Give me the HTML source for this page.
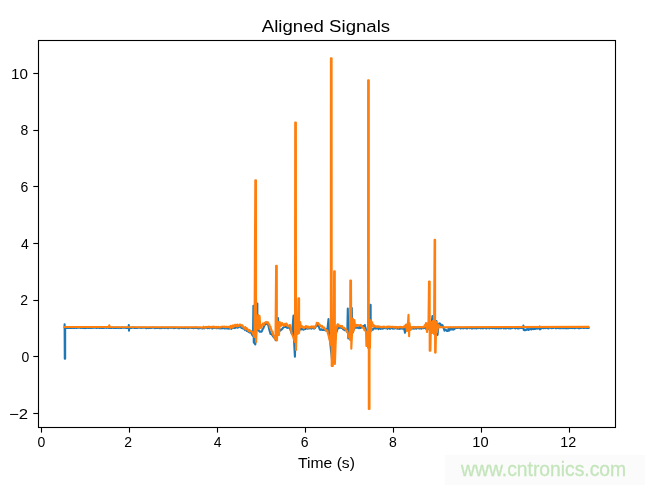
<!DOCTYPE html>
<html><head><meta charset="utf-8"><style>
html,body{margin:0;padding:0;background:#fff;}
body{width:645px;height:485px;position:relative;overflow:hidden;font-family:"Liberation Sans",sans-serif;}
svg{position:absolute;left:0;top:0;will-change:transform;}
.wm{position:absolute;left:445px;top:455px;width:200px;height:30px;background:#fbfbfb;}
</style></head><body>
<div class="wm"></div>
<svg width="645" height="485" viewBox="0 0 645 485">
<g fill="#000" font-family="Liberation Sans, sans-serif">
<text x="326.00" y="31.87" font-size="16.9" text-anchor="middle" textLength="128.38" lengthAdjust="spacingAndGlyphs">Aligned Signals</text><text x="326.49" y="467.57" font-size="14.4" text-anchor="middle" textLength="56.87" lengthAdjust="spacingAndGlyphs">Time (s)</text><text x="41.44" y="446.60" font-size="14" text-anchor="middle">0</text><text x="128.19" y="446.70" font-size="14" text-anchor="middle">2</text><text x="217.60" y="446.65" font-size="14" text-anchor="middle">4</text><text x="304.54" y="446.67" font-size="14" text-anchor="middle">6</text><text x="392.91" y="446.64" font-size="14" text-anchor="middle">8</text><text x="480.50" y="446.60" font-size="14" text-anchor="middle" textLength="16.34" lengthAdjust="spacingAndGlyphs">10</text><text x="568.24" y="446.50" font-size="14" text-anchor="middle" textLength="15.95" lengthAdjust="spacingAndGlyphs">12</text><text x="18.48" y="418.60" font-size="14" text-anchor="middle" textLength="19.05" lengthAdjust="spacingAndGlyphs">&#8722;2</text><text x="25.39" y="361.66" font-size="14" text-anchor="middle">0</text><text x="24.13" y="304.57" font-size="14" text-anchor="middle">2</text><text x="24.94" y="248.60" font-size="14" text-anchor="middle">4</text><text x="24.32" y="191.63" font-size="14" text-anchor="middle">6</text><text x="24.46" y="134.56" font-size="14" text-anchor="middle">8</text><text x="19.42" y="78.60" font-size="14" text-anchor="middle" textLength="16.90" lengthAdjust="spacingAndGlyphs">10</text>
</g>
<rect x="38.5" y="40.5" width="577" height="387" stroke="#000" stroke-width="1.11" fill="none"/>
<g stroke="#000" stroke-width="1.11"><line x1="41.5" y1="427.5" x2="41.5" y2="432.6"/><line x1="129.5" y1="427.5" x2="129.5" y2="432.6"/><line x1="217.5" y1="427.5" x2="217.5" y2="432.6"/><line x1="305.5" y1="427.5" x2="305.5" y2="432.6"/><line x1="393.5" y1="427.5" x2="393.5" y2="432.6"/><line x1="481.5" y1="427.5" x2="481.5" y2="432.6"/><line x1="569.5" y1="427.5" x2="569.5" y2="432.6"/><line x1="33.3" y1="413.5" x2="38.5" y2="413.5"/><line x1="33.3" y1="356.5" x2="38.5" y2="356.5"/><line x1="33.3" y1="300.5" x2="38.5" y2="300.5"/><line x1="33.3" y1="243.5" x2="38.5" y2="243.5"/><line x1="33.3" y1="186.5" x2="38.5" y2="186.5"/><line x1="33.3" y1="130.5" x2="38.5" y2="130.5"/><line x1="33.3" y1="73.5" x2="38.5" y2="73.5"/></g>
<polyline fill="none" stroke="#1f77b4" stroke-width="2.08" stroke-linejoin="round" stroke-linecap="square" points="64.55,327.80 64.60,324.20 64.80,358.80 65.15,358.80 65.15,327.80 65.65,328.03 66.16,327.83 66.66,327.51 67.16,327.97 67.66,327.76 68.17,327.85 68.67,327.92 69.17,327.88 69.67,327.79 70.18,328.05 70.68,327.73 71.18,327.74 71.69,328.01 72.19,327.62 72.69,327.68 73.19,328.00 73.70,327.54 74.20,328.00 74.70,327.92 75.21,327.76 75.71,327.67 76.21,327.97 76.71,328.05 77.22,327.59 77.72,327.79 78.22,327.83 78.72,327.80 79.23,327.70 79.73,327.59 80.23,327.85 80.74,327.99 81.24,327.54 81.74,327.64 82.24,327.99 82.75,327.98 83.25,327.90 83.75,327.52 84.26,327.93 84.76,328.09 85.26,328.10 85.76,327.92 86.27,327.53 86.77,328.01 87.27,327.63 87.77,327.89 88.28,328.07 88.78,327.93 89.28,327.58 89.79,327.68 90.29,328.05 90.79,327.59 91.29,327.87 91.80,327.75 92.30,327.60 92.80,327.87 93.31,327.53 93.81,327.56 94.31,327.73 94.81,327.54 95.32,327.53 95.82,327.85 96.32,327.95 96.82,328.03 97.33,327.58 97.83,327.76 98.33,327.69 98.84,327.86 99.34,327.79 99.84,328.06 100.34,327.72 100.85,327.53 101.35,327.92 101.85,327.59 102.36,327.88 102.86,327.80 103.36,328.05 103.86,327.83 104.37,327.87 104.87,327.66 105.37,327.83 105.88,327.65 106.38,327.95 106.88,327.81 107.38,327.58 107.89,327.64 108.39,327.72 108.89,327.94 109.39,327.61 109.90,327.93 110.40,327.89 110.90,327.55 111.41,327.90 111.91,327.55 112.41,327.57 112.91,327.86 113.42,327.64 113.92,328.03 114.42,327.79 114.92,327.69 115.43,327.98 115.93,327.52 116.43,327.94 116.94,327.53 117.44,327.59 117.94,328.07 118.44,327.91 118.95,327.63 119.45,327.57 119.95,328.08 120.46,327.90 120.96,327.99 121.46,327.58 121.96,327.87 122.47,327.71 122.97,327.64 123.47,327.70 123.97,327.87 124.48,327.71 124.98,327.73 125.48,327.58 125.99,328.00 126.49,327.89 126.99,327.98 127.49,327.76 128.00,328.01 128.50,327.80 128.80,325.00 129.00,330.70 129.30,327.80 129.80,327.81 130.30,327.86 130.80,327.85 131.31,327.95 131.81,327.74 132.31,327.57 132.81,327.53 133.31,327.63 133.81,327.54 134.31,328.05 134.82,327.80 135.32,327.97 135.82,327.52 136.32,327.80 136.82,328.06 137.32,327.89 137.82,327.78 138.33,327.80 138.83,327.59 139.33,327.62 139.83,327.63 140.33,327.76 140.83,327.76 141.33,328.06 141.84,327.63 142.34,327.69 142.84,327.70 143.34,327.64 143.84,327.71 144.34,327.68 144.84,327.83 145.35,327.56 145.85,328.10 146.35,327.77 146.85,328.11 147.35,327.96 147.85,327.96 148.35,327.84 148.86,328.12 149.36,327.63 149.86,327.96 150.36,327.73 150.86,327.97 151.36,328.00 151.86,327.66 152.37,327.69 152.87,327.58 153.37,327.71 153.87,327.62 154.37,327.81 154.87,328.16 155.37,327.79 155.88,327.76 156.38,327.86 156.88,327.75 157.38,328.02 157.88,328.01 158.38,327.68 158.88,327.73 159.39,327.99 159.89,328.15 160.39,327.98 160.89,327.85 161.39,328.18 161.89,327.60 162.39,327.63 162.90,328.06 163.40,327.84 163.90,327.62 164.40,327.93 164.90,328.19 165.40,327.91 165.90,327.81 166.40,327.66 166.91,327.65 167.41,328.15 167.91,327.90 168.41,328.17 168.91,327.64 169.41,327.76 169.91,327.65 170.42,327.85 170.92,327.65 171.42,327.77 171.92,327.87 172.42,327.81 172.92,327.65 173.42,327.65 173.93,328.21 174.43,327.74 174.93,327.93 175.43,327.87 175.93,327.95 176.43,327.68 176.93,327.82 177.44,327.70 177.94,327.96 178.44,328.19 178.94,328.00 179.44,328.16 179.94,327.77 180.44,327.66 180.95,327.97 181.45,327.94 181.95,327.99 182.45,327.88 182.95,328.03 183.45,328.09 183.95,328.20 184.46,327.84 184.96,327.93 185.46,328.15 185.96,327.79 186.46,327.73 186.96,327.85 187.46,327.72 187.97,328.13 188.47,328.16 188.97,327.86 189.47,327.75 189.97,327.72 190.47,327.82 190.97,327.73 191.48,327.93 191.98,328.02 192.48,327.83 192.98,327.72 193.48,328.10 193.98,327.71 194.48,327.80 194.99,327.86 195.49,327.86 195.99,327.59 196.49,327.91 196.99,327.81 197.49,328.25 197.99,328.05 198.50,328.39 199.00,328.15 199.50,328.26 200.00,328.00 200.50,328.07 201.00,327.94 201.50,328.32 202.00,328.16 202.50,328.45 203.00,328.23 203.50,328.20 204.00,327.77 204.50,328.31 205.00,327.88 205.50,327.63 206.00,327.57 206.50,327.67 207.00,327.76 207.50,328.18 208.00,327.79 208.50,327.56 209.00,328.26 209.50,328.06 210.00,327.53 210.50,327.55 211.00,327.63 211.50,327.86 212.00,328.36 212.50,328.45 213.00,328.11 213.50,327.73 214.00,327.93 214.50,327.86 215.00,327.83 215.50,327.51 216.00,328.08 216.50,328.33 217.00,328.23 217.50,327.60 218.00,328.03 218.50,327.67 219.00,328.21 219.50,327.95 220.00,328.44 220.50,328.29 221.00,327.62 221.50,327.82 222.00,328.41 222.50,327.96 223.00,327.93 223.50,327.94 224.00,328.27 224.50,328.44 225.00,328.00 225.50,328.06 226.00,328.52 226.50,328.17 227.00,327.70 227.50,328.44 228.00,328.07 228.50,327.73 229.00,328.68 229.50,327.76 230.00,328.37 230.50,328.25 231.00,328.30 231.50,328.83 232.00,327.97 232.50,327.60 233.00,327.62 233.50,327.42 234.00,327.92 234.50,327.51 235.00,328.06 235.50,327.17 236.00,327.50 236.53,327.09 237.06,326.75 237.59,327.76 238.11,327.36 238.64,327.20 239.17,326.66 239.70,326.30 240.25,326.51 240.80,326.46 241.35,327.93 241.90,327.75 242.45,327.39 243.00,328.50 243.55,328.22 244.10,328.36 244.65,329.60 245.20,330.14 245.75,329.27 246.30,330.00 246.84,330.81 247.39,330.39 247.93,331.29 248.48,331.91 249.02,331.86 249.57,332.48 250.11,332.14 250.66,331.88 251.20,333.00 251.80,334.02 252.40,335.14 253.00,336.00 253.40,305.80 253.75,305.80 253.75,342.60 254.27,342.66 254.78,343.56 255.30,344.30 256.00,335.00 257.00,303.50 257.35,303.50 257.35,330.00 257.96,330.16 258.58,330.14 259.19,331.05 259.80,331.80 260.37,331.61 260.93,331.76 261.50,331.80 262.07,330.83 262.63,329.04 263.20,328.67 263.77,327.10 264.33,325.98 264.90,324.00 265.48,324.21 266.06,324.07 266.64,323.76 267.22,324.08 267.80,323.50 268.34,325.38 268.88,327.85 269.42,330.09 269.96,331.94 270.50,334.00 271.00,334.08 271.50,334.18 272.00,334.63 272.50,335.48 273.00,336.27 273.50,336.99 274.00,337.00 274.57,338.17 275.15,338.34 275.73,340.16 276.30,340.30 277.00,335.00 278.00,318.00 278.60,332.00 279.14,331.09 279.68,331.25 280.22,329.67 280.76,330.21 281.30,329.52 281.84,329.43 282.38,328.79 282.92,327.90 283.46,327.59 284.00,326.50 284.54,326.98 285.08,326.88 285.62,326.33 286.16,326.93 286.70,327.63 287.24,326.68 287.78,327.96 288.32,327.37 288.86,327.23 289.40,327.50 289.92,328.00 290.44,329.92 290.96,330.89 291.48,332.94 292.00,334.00 293.50,315.50 294.00,340.00 294.90,356.70 295.50,340.00 296.50,329.00 298.00,330.00 298.53,330.50 299.06,330.37 299.59,329.75 300.11,329.25 300.64,328.66 301.17,329.44 301.70,329.00 302.21,329.09 302.73,329.34 303.24,328.80 303.76,329.62 304.27,328.54 304.79,328.69 305.30,329.00 305.87,328.29 306.43,328.53 307.00,328.00 307.50,328.64 308.00,327.47 308.50,328.21 309.00,328.43 309.50,327.56 310.00,327.30 310.50,328.11 311.00,328.53 311.50,328.61 312.00,328.36 312.50,327.87 313.00,327.88 313.50,328.05 314.00,328.65 314.50,327.68 315.00,328.00 315.60,326.77 316.20,326.42 316.80,326.12 317.40,324.50 317.92,325.04 318.44,325.83 318.96,327.00 319.48,328.76 320.00,329.70 320.53,329.87 321.06,329.19 321.59,329.20 322.11,329.85 322.64,329.93 323.17,330.00 323.70,330.07 324.23,329.00 324.76,329.68 325.29,330.24 325.81,330.43 326.34,329.41 326.87,330.26 327.40,329.70 328.50,319.00 329.00,335.00 330.00,340.00 330.50,345.23 331.00,350.68 331.50,354.57 332.00,360.00 332.50,355.31 333.00,350.55 333.50,344.96 334.00,340.00 334.50,337.76 335.00,336.31 335.50,334.65 336.00,332.95 336.50,332.00 338.00,328.00 338.50,327.28 339.00,327.85 339.50,326.87 340.00,327.75 340.50,327.54 341.00,327.00 341.50,327.84 342.00,328.15 342.50,328.34 343.00,329.01 343.50,329.40 344.00,329.20 344.50,330.08 345.00,329.03 345.50,330.00 346.10,330.03 346.70,330.64 347.30,332.00 347.80,308.60 348.30,338.50 348.87,336.86 349.43,335.97 350.00,335.00 350.60,325.93 351.20,317.29 351.80,308.00 352.20,333.00 352.76,332.29 353.32,330.13 353.88,329.55 354.44,328.67 355.00,327.50 355.52,327.30 356.03,326.89 356.55,327.66 357.06,327.30 357.58,327.79 358.09,327.49 358.61,328.24 359.12,328.21 359.64,326.82 360.15,327.92 360.67,327.85 361.18,327.17 361.70,327.50 362.22,326.47 362.73,326.63 363.25,326.02 363.77,326.21 364.28,326.09 364.80,325.00 365.40,327.38 366.00,329.80 366.60,332.70 368.00,336.00 368.57,328.22 369.15,320.76 369.73,313.14 370.30,304.90 370.65,304.90 370.70,331.00 371.24,330.64 371.78,329.71 372.32,329.30 372.86,329.64 373.40,328.60 373.91,328.60 374.42,327.82 374.92,328.38 375.43,328.06 375.94,328.71 376.45,327.73 376.95,328.02 377.46,327.71 377.97,328.29 378.48,329.07 378.98,328.33 379.49,328.05 380.00,328.20 380.50,328.89 381.00,327.54 381.50,327.96 382.00,328.68 382.50,327.39 383.00,328.60 383.50,327.95 384.00,327.39 384.50,327.76 385.00,328.09 385.50,327.97 386.00,328.18 386.50,327.43 387.00,327.69 387.50,328.90 388.00,328.04 388.50,328.08 389.00,327.46 389.50,327.77 390.00,328.84 390.50,328.41 391.00,328.12 391.50,327.39 392.00,327.93 392.50,328.54 393.00,327.99 393.50,328.24 394.00,328.73 394.50,328.31 395.00,328.29 395.50,327.33 396.00,327.30 396.50,328.49 397.00,327.92 397.50,328.65 398.00,328.57 398.50,328.71 399.00,327.85 399.50,328.84 400.00,328.44 400.50,328.66 401.00,327.46 401.50,328.47 402.00,327.89 402.50,328.77 403.00,328.80 403.50,327.55 404.00,328.00 405.00,332.80 406.00,328.00 406.50,327.87 407.00,327.63 407.50,327.95 408.00,327.66 408.50,328.27 409.00,327.40 409.50,327.47 410.00,327.93 410.50,327.32 411.00,327.81 411.50,328.64 412.00,328.62 412.50,327.51 413.00,327.23 413.50,328.53 414.00,328.74 414.50,328.16 415.00,327.42 415.50,327.58 416.00,328.67 416.50,328.70 417.00,327.25 417.50,327.50 418.00,327.89 418.50,327.63 419.00,328.41 419.50,327.80 420.00,328.44 420.50,327.44 421.00,328.03 421.50,328.76 422.00,328.32 422.50,327.34 423.00,327.38 423.50,328.23 424.00,327.80 424.50,327.79 425.00,327.96 425.50,328.13 426.00,328.75 426.50,327.59 427.00,328.11 427.50,327.62 428.00,328.00 428.50,328.41 429.00,329.04 429.50,328.41 430.00,329.30 430.50,330.00 431.00,330.00 432.40,316.10 433.00,331.00 433.50,328.78 434.00,328.58 434.50,326.58 435.00,325.29 435.50,324.03 436.00,323.37 436.50,321.00 437.50,335.00 438.70,324.50 439.25,323.33 439.80,325.00 440.35,323.77 440.90,325.13 441.45,325.26 442.00,326.00 442.50,325.14 443.00,326.69 443.50,327.84 444.00,329.16 444.50,330.69 445.00,330.00 445.50,329.49 446.00,329.90 446.50,330.38 447.00,331.00 447.50,330.94 448.00,330.96 448.50,328.67 449.00,328.13 449.50,330.48 450.00,329.00 450.50,327.55 451.00,328.64 451.50,329.46 452.00,328.69 452.50,328.14 453.00,329.76 453.50,327.66 454.00,328.37 454.50,329.15 455.00,328.00 455.50,327.64 456.00,327.85 456.50,327.99 457.01,328.07 457.51,327.71 458.01,327.95 458.51,327.56 459.01,327.59 459.51,327.84 460.01,327.64 460.52,328.47 461.02,327.76 461.52,327.78 462.02,328.28 462.52,328.24 463.02,327.76 463.52,328.33 464.03,328.13 464.53,327.89 465.03,328.13 465.53,327.75 466.03,327.76 466.53,328.38 467.04,327.94 467.54,328.40 468.04,327.68 468.54,327.64 469.04,327.55 469.54,328.24 470.04,328.06 470.55,327.51 471.05,327.54 471.55,328.32 472.05,327.99 472.55,328.37 473.05,327.54 473.55,328.09 474.06,327.62 474.56,328.22 475.06,328.11 475.56,328.11 476.06,327.72 476.56,328.45 477.06,327.61 477.57,327.56 478.07,328.18 478.57,327.59 479.07,327.57 479.57,327.96 480.07,328.15 480.58,328.39 481.08,328.22 481.58,327.57 482.08,328.14 482.58,328.34 483.08,327.62 483.58,328.25 484.09,327.76 484.59,327.80 485.09,327.50 485.59,328.26 486.09,328.02 486.59,328.40 487.09,327.97 487.60,327.66 488.10,327.72 488.60,327.76 489.10,328.45 489.60,327.71 490.10,327.59 490.60,327.85 491.11,327.58 491.61,327.93 492.11,328.12 492.61,328.15 493.11,327.67 493.61,327.64 494.11,327.99 494.62,328.19 495.12,327.95 495.62,328.07 496.12,328.41 496.62,327.65 497.12,327.77 497.62,327.99 498.13,328.04 498.63,328.40 499.13,328.06 499.63,328.16 500.13,327.92 500.63,328.28 501.14,328.34 501.64,327.79 502.14,327.61 502.64,327.76 503.14,327.86 503.64,328.39 504.14,327.76 504.65,328.13 505.15,328.14 505.65,328.46 506.15,327.62 506.65,328.27 507.15,327.84 507.65,327.60 508.16,328.13 508.66,328.34 509.16,328.08 509.66,327.55 510.16,328.47 510.66,327.88 511.16,328.14 511.67,328.22 512.17,327.76 512.67,327.91 513.17,327.83 513.67,327.60 514.17,327.56 514.68,328.22 515.18,327.91 515.68,328.37 516.18,327.56 516.68,327.80 517.18,327.68 517.68,328.44 518.19,328.29 518.69,328.40 519.19,328.01 519.69,327.60 520.19,327.92 520.69,327.73 521.19,327.53 521.70,328.06 522.20,327.79 522.70,327.61 523.20,328.00 523.40,325.50 523.70,330.00 524.21,329.95 524.72,330.30 525.23,330.25 525.74,329.71 526.25,329.28 526.76,329.88 527.27,329.16 527.78,329.52 528.29,329.00 528.80,329.84 529.31,329.33 529.82,329.16 530.33,328.93 530.84,329.15 531.35,329.51 531.85,328.90 532.36,328.61 532.87,328.85 533.38,329.19 533.89,328.59 534.40,328.78 534.91,329.00 535.42,328.34 535.93,328.76 536.44,328.42 536.95,327.96 537.46,327.81 537.97,328.63 538.48,328.10 538.99,328.01 539.50,328.00 539.70,326.50 540.00,329.50 541.00,327.90 541.50,328.32 542.00,327.97 542.50,327.90 543.00,327.68 543.51,328.14 544.01,327.65 544.51,327.86 545.01,328.15 545.51,328.00 546.01,327.52 546.51,327.59 547.01,328.08 547.51,328.12 548.01,327.49 548.52,328.38 549.02,327.52 549.52,327.55 550.02,327.47 550.52,327.83 551.02,328.00 551.52,328.24 552.02,327.54 552.52,328.07 553.03,327.48 553.53,327.95 554.03,327.62 554.53,327.73 555.03,327.42 555.53,328.09 556.03,327.49 556.53,328.13 557.03,327.70 557.53,327.96 558.04,328.00 558.54,327.85 559.04,328.24 559.54,328.28 560.04,327.64 560.54,327.69 561.04,328.23 561.54,327.49 562.04,327.78 562.55,327.77 563.05,328.33 563.55,327.48 564.05,328.01 564.55,328.11 565.05,328.08 565.55,327.35 566.05,328.29 566.55,327.66 567.05,328.20 567.56,328.01 568.06,327.76 568.56,328.18 569.06,328.02 569.56,327.68 570.06,328.07 570.56,327.84 571.06,328.05 571.56,327.95 572.07,328.13 572.57,327.49 573.07,327.83 573.57,327.33 574.07,328.12 574.57,328.10 575.07,328.17 575.57,327.37 576.07,327.86 576.57,327.80 577.08,327.44 577.58,327.53 578.08,328.30 578.58,328.17 579.08,327.56 579.58,328.15 580.08,327.97 580.58,327.70 581.08,327.96 581.59,327.54 582.09,327.59 582.59,327.32 583.09,327.97 583.59,327.89 584.09,328.05 584.59,327.81 585.09,327.74 585.59,327.61 586.09,328.04 586.60,327.68 587.10,327.90 587.60,328.06 588.10,327.75 588.60,327.80"/>
<polyline fill="none" stroke="#ff7f0e" stroke-width="2.08" stroke-linejoin="round" stroke-linecap="square" points="64.50,327.00 108.80,327.00 109.30,325.30 109.80,327.00 200.00,327.20 200.50,327.32 201.00,327.43 201.50,327.48 202.00,327.63 202.50,327.42 203.00,327.60 203.50,326.70 204.00,327.13 204.50,327.61 205.00,327.31 205.50,327.56 206.00,326.77 206.50,327.12 207.00,326.89 207.50,327.18 208.00,327.21 208.50,326.65 209.00,326.84 209.50,326.90 210.00,327.54 210.50,327.38 211.00,326.77 211.50,327.41 212.00,326.74 212.50,327.22 213.00,326.72 213.50,326.59 214.00,327.46 214.50,326.79 215.00,326.80 215.50,327.56 216.00,327.44 216.50,326.86 217.00,327.53 217.50,327.10 218.00,327.23 218.50,326.76 219.00,327.49 219.50,327.23 220.00,327.51 220.50,327.43 221.00,326.83 221.50,326.89 222.00,326.69 222.50,326.67 223.00,326.58 223.50,326.81 224.00,327.11 224.50,326.51 225.00,327.00 225.53,327.17 226.07,326.82 226.60,326.78 227.13,327.29 227.67,326.94 228.20,326.77 228.73,326.92 229.27,327.14 229.80,326.48 230.33,328.06 230.87,325.76 231.40,326.90 231.91,327.38 232.42,327.48 232.93,325.38 233.44,327.10 233.96,325.97 234.47,326.36 234.98,324.87 235.49,324.83 236.00,325.80 236.53,324.86 237.06,326.55 237.59,324.56 238.11,325.73 238.64,325.97 239.17,325.83 239.70,324.60 240.25,324.54 240.80,324.88 241.35,325.61 241.90,326.53 242.45,325.24 243.00,326.50 243.55,327.50 244.10,328.01 244.65,328.56 245.20,326.99 245.75,329.57 246.30,328.90 246.84,328.20 247.39,329.07 247.93,330.00 248.48,331.01 249.02,329.90 249.57,331.58 250.11,330.95 250.66,330.67 251.20,331.40 251.80,331.66 252.40,332.03 253.00,333.50 254.50,337.00 255.30,180.40 256.00,180.40 256.10,342.00 256.60,330.00 257.17,323.99 257.73,319.16 258.30,315.00 258.80,329.00 259.60,316.00 260.40,327.90 260.92,327.63 261.45,327.64 261.98,324.91 262.50,325.00 263.10,323.37 263.70,325.07 264.30,323.43 264.90,322.80 265.48,322.45 266.06,321.93 266.64,322.67 267.22,323.10 267.80,322.20 268.33,323.23 268.87,324.28 269.40,324.53 269.93,327.73 270.47,326.75 271.00,329.00 271.50,330.12 272.00,332.08 272.50,331.51 273.00,334.09 273.50,335.75 274.00,335.80 275.50,339.50 276.10,265.70 276.80,265.70 276.90,340.50 277.60,330.00 278.30,322.00 279.00,335.00 279.80,322.00 280.70,326.00 282.00,323.00 282.50,324.06 283.00,325.19 283.50,324.31 284.00,326.00 284.50,325.22 285.00,323.91 285.50,324.95 286.00,323.50 286.50,323.51 287.00,324.39 287.50,326.20 288.00,325.50 288.52,326.22 289.05,326.39 289.58,325.01 290.10,325.00 290.73,327.97 291.37,331.55 292.00,334.00 292.60,335.62 293.20,336.83 293.80,339.00 295.00,342.00 295.20,122.50 295.90,122.50 296.00,350.00 296.50,334.00 297.30,322.00 297.80,334.00 298.40,298.40 299.10,298.40 299.10,333.00 300.20,322.00 301.00,327.00 301.50,326.77 302.00,326.15 302.50,326.70 303.00,327.00 303.50,328.16 304.00,328.09 304.50,327.28 305.00,326.97 305.50,326.57 306.00,325.96 306.50,326.40 307.00,327.61 307.50,327.81 308.00,326.58 308.50,327.59 309.00,327.56 309.50,327.36 310.00,327.28 310.50,327.50 311.00,326.54 311.50,327.35 312.00,326.32 312.50,326.81 313.00,327.48 313.50,327.28 314.00,326.32 314.50,327.88 315.00,326.80 315.60,326.21 316.20,325.09 316.80,322.78 317.40,323.00 317.92,323.51 318.44,323.20 318.96,324.61 319.48,324.51 320.00,325.00 320.50,326.09 321.00,326.02 321.50,326.71 322.00,325.97 322.50,327.01 323.00,327.57 323.50,328.12 324.00,327.31 324.50,328.00 325.08,329.32 325.66,329.89 326.24,329.95 326.82,331.14 327.40,330.50 327.92,333.87 328.45,335.09 328.98,337.40 329.50,339.60 330.85,345.00 330.90,58.30 331.60,58.30 331.70,366.00 332.30,342.00 332.80,366.00 333.60,345.00 334.10,271.30 334.80,271.30 334.90,364.00 335.60,345.00 336.30,330.00 337.30,324.70 337.83,324.08 338.36,325.88 338.89,326.31 339.41,325.39 339.94,326.09 340.47,326.34 341.00,326.00 341.50,326.86 342.00,325.83 342.50,327.61 343.00,327.44 343.50,327.95 344.00,327.68 344.50,328.47 345.00,329.15 345.50,328.80 346.00,330.13 346.50,331.33 347.00,330.67 347.50,331.98 348.00,333.80 348.52,335.21 349.05,337.26 349.58,337.78 350.10,340.00 350.30,280.50 351.00,280.50 351.30,348.80 352.00,335.00 352.80,318.50 353.60,331.00 354.40,320.00 355.00,326.00 355.52,326.45 356.03,326.31 356.55,324.90 357.06,325.93 357.58,325.34 358.09,324.93 358.61,325.12 359.12,325.56 359.64,325.24 360.15,325.26 360.67,324.89 361.18,325.92 361.70,326.00 362.22,326.31 362.73,327.47 363.25,328.02 363.77,327.77 364.28,329.97 364.80,329.60 366.00,332.00 366.40,346.00 366.90,334.00 368.05,348.00 368.10,80.20 368.80,80.20 368.80,409.00 369.50,409.00 369.50,340.00 370.00,348.00 370.40,320.30 371.00,331.00 372.00,322.00 373.40,326.50 373.91,325.32 374.42,326.45 374.92,326.35 375.43,326.50 375.94,326.23 376.45,326.97 376.95,326.54 377.46,326.22 377.97,326.82 378.48,326.33 378.98,326.80 379.49,326.62 380.00,326.80 380.50,326.89 381.00,327.27 381.50,327.14 382.00,326.75 382.50,327.15 383.00,326.99 383.50,326.73 384.00,326.51 384.50,326.97 385.00,326.95 385.50,327.35 386.00,327.37 386.50,327.02 387.00,326.77 387.50,327.32 388.00,326.43 388.50,326.55 389.00,327.02 389.50,327.07 390.00,326.61 390.50,327.10 391.00,327.37 391.50,326.87 392.00,326.93 392.50,326.73 393.00,326.81 393.50,327.50 394.00,326.91 394.50,327.50 395.00,327.46 395.50,327.15 396.00,326.83 396.50,327.56 397.00,327.08 397.50,327.01 398.00,326.92 398.50,327.59 399.00,327.11 399.50,326.91 400.00,327.11 400.50,326.76 401.00,327.27 401.50,327.10 402.00,326.96 402.50,327.46 403.00,327.51 403.50,326.70 404.00,327.20 404.50,326.56 405.00,325.62 405.50,325.61 406.00,324.50 407.00,331.00 408.00,322.00 408.50,314.90 409.10,336.10 409.50,323.00 410.50,330.00 412.00,327.20 412.50,327.48 413.00,326.95 413.50,326.97 414.00,326.85 414.50,327.69 415.00,326.99 415.50,327.31 416.00,327.17 416.50,327.34 417.00,327.30 417.50,327.44 418.00,326.82 418.50,327.46 419.00,327.00 419.50,327.23 420.00,327.04 420.50,327.00 421.00,327.23 421.50,327.16 422.00,327.06 422.50,327.45 423.00,327.29 423.50,326.74 424.00,327.20 424.50,325.65 425.00,325.01 425.50,324.88 426.00,323.00 427.00,332.00 428.50,321.00 429.00,281.60 429.70,281.60 429.70,350.70 430.40,350.70 431.00,322.00 432.00,333.00 432.80,321.00 434.00,334.00 434.60,239.90 435.10,239.90 435.10,352.60 435.60,352.60 436.20,322.00 437.00,332.00 438.50,325.00 440.00,327.20 588.20,326.90"/>
</svg>
<svg width="645" height="485" viewBox="0 0 645 485"><text x="461.1" y="475.9" font-family="Liberation Sans, sans-serif" font-size="20" fill="#c4e5bb" stroke="#c4e5bb" stroke-width="0.3" textLength="165.0" lengthAdjust="spacingAndGlyphs">www.cntronics.com</text></svg>
</body></html>
